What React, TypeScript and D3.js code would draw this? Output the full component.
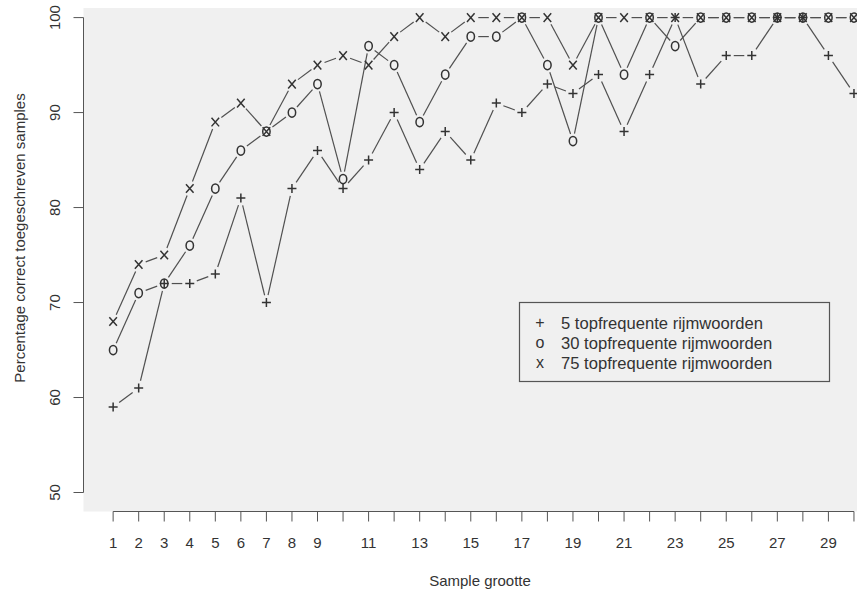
import * as d3 from "d3";
import { useEffect, useRef } from "react";

// sample sizes 1..30
const sampleSizes = d3.range(1, 31);

// percentage correct per sample size
const top5 = [59, 61, 72, 72, 73, 81, 70, 82, 86, 82, 85, 90, 84, 88, 85, 91, 90, 93, 92, 94, 88, 94, 100, 93, 96, 96, 100, 100, 96, 92];
const top30 = [65, 71, 72, 76, 82, 86, 88, 90, 93, 83, 97, 95, 89, 94, 98, 98, 100, 95, 87, 100, 94, 100, 97, 100, 100, 100, 100, 100, 100, 100];
const top75 = [68, 74, 75, 82, 89, 91, 88, 93, 95, 96, 95, 98, 100, 98, 100, 100, 100, 100, 95, 100, 100, 100, 100, 100, 100, 100, 100, 100, 100, 100];

const seriesNames = ["5 topfrequente rijmwoorden", "30 topfrequente rijmwoorden", "75 topfrequente rijmwoorden"];
const seriesSymbols = ["+", "o", "x"];

const xTickLabels = [1, 2, 3, 4, 5, 6, 7, 8, 9, 11, 13, 15, 17, 19, 21, 23, 25, 27, 29];
const yTicks = [50, 60, 70, 80, 90, 100];

const WIDTH = 857;
const HEIGHT = 593;
const FONT = "'Liberation Sans', Arial, Helvetica, sans-serif";
const INK = "#333";

const App = () => {
  const svgRef = useRef(null);

  useEffect(() => {
    const root = d3.select(svgRef.current);
    root.selectAll("*").remove();

    // R-style plot region: data range expanded by 4%
    const x = d3.scaleLinear().domain([1 - 1.16, 30 + 1.16]).range([83.5, 883.6]);
    const y = d3.scaleLinear().domain([48, 102]).range([511.5, -1.4]);
    const left = x(-0.16);

    // plot background
    root
      .append("rect")
      .attr("x", left)
      .attr("y", 8)
      .attr("width", WIDTH - left)
      .attr("height", y(48) - 8)
      .attr("fill", "#f0f0f0");

    // y axis
    const ya = root.append("g").attr("stroke", "#555").attr("fill", "none");
    ya.append("line")
      .attr("x1", left).attr("x2", left)
      .attr("y1", y(50)).attr("y2", y(100));
    ya.selectAll(".yt")
      .data(yTicks)
      .enter()
      .append("line")
      .attr("x1", left).attr("x2", left - 10)
      .attr("y1", (d) => y(d)).attr("y2", (d) => y(d));
    root
      .selectAll(".ylab")
      .data(yTicks)
      .enter()
      .append("text")
      .attr("transform", (d) => `translate(60, ${y(d)}) rotate(-90)`)
      .attr("text-anchor", "middle")
      .attr("font-family", FONT)
      .attr("font-size", 15)
      .attr("fill", INK)
      .text((d) => d);

    // x axis
    const xa = root.append("g").attr("stroke", "#555").attr("fill", "none");
    xa.append("line")
      .attr("x1", x(1)).attr("x2", x(30))
      .attr("y1", y(48)).attr("y2", y(48));
    xa.selectAll(".xt")
      .data(sampleSizes)
      .enter()
      .append("line")
      .attr("x1", (d) => x(d)).attr("x2", (d) => x(d))
      .attr("y1", y(48)).attr("y2", y(48) + 10);
    root
      .selectAll(".xlab")
      .data(xTickLabels)
      .enter()
      .append("text")
      .attr("x", (d) => x(d))
      .attr("y", 548)
      .attr("text-anchor", "middle")
      .attr("font-family", FONT)
      .attr("font-size", 15)
      .attr("fill", INK)
      .text((d) => d);

    // axis titles
    root
      .append("text")
      .attr("x", 480)
      .attr("y", 586)
      .attr("text-anchor", "middle")
      .attr("font-family", FONT)
      .attr("font-size", 15)
      .attr("fill", INK)
      .text("Sample grootte");
    root
      .append("text")
      .attr("transform", `translate(25, 238) rotate(-90)`)
      .attr("text-anchor", "middle")
      .attr("font-family", FONT)
      .attr("font-size", 15)
      .attr("fill", INK)
      .text("Percentage correct toegeschreven samples");

    // marker drawing
    const drawMarker = (g, sym, cx, cy) => {
      if (sym === "+") {
        g.append("path")
          .attr("d", `M${cx - 4.5},${cy}H${cx + 4.5}M${cx},${cy - 4.5}V${cy + 4.5}`)
          .attr("stroke", INK).attr("stroke-width", 1.5).attr("fill", "none");
      } else if (sym === "o") {
        g.append("ellipse")
          .attr("cx", cx).attr("cy", cy).attr("rx", 3.7).attr("ry", 4.6)
          .attr("stroke", INK).attr("stroke-width", 1.5).attr("fill", "none");
      } else {
        g.append("path")
          .attr("d", `M${cx - 3.8},${cy - 4.3}L${cx + 3.8},${cy + 4.3}M${cx + 3.8},${cy - 4.3}L${cx - 3.8},${cy + 4.3}`)
          .attr("stroke", INK).attr("stroke-width", 1.5).attr("fill", "none");
      }
    };

    // type = "b": lines with gaps around the points
    const gap = 7.5;
    [top5, top30, top75].forEach((vals, si) => {
      const g = root.append("g");
      const pts = vals.map((v, i) => [x(sampleSizes[i]), y(v)]);
      for (let i = 0; i < pts.length - 1; i++) {
        const [x0, y0] = pts[i];
        const [x1, y1] = pts[i + 1];
        const len = Math.hypot(x1 - x0, y1 - y0);
        if (len <= 2 * gap) continue;
        const ux = (x1 - x0) / len;
        const uy = (y1 - y0) / len;
        g.append("line")
          .attr("x1", x0 + ux * gap).attr("y1", y0 + uy * gap)
          .attr("x2", x1 - ux * gap).attr("y2", y1 - uy * gap)
          .attr("stroke", "#505050").attr("stroke-width", 1.2);
      }
      pts.forEach(([px, py]) => drawMarker(g, seriesSymbols[si], px, py));
    });

    // legend
    const lg = root.append("g");
    lg.append("rect")
      .attr("x", 519.5).attr("y", 302.5).attr("width", 310).attr("height", 79)
      .attr("fill", "none").attr("stroke", "#555").attr("stroke-width", 1.2);
    seriesNames.forEach((name, i) => {
      const ly = 323 + i * 20;
      lg.append("text")
        .attr("x", 540).attr("y", ly + 5)
        .attr("text-anchor", "middle")
        .attr("font-family", FONT).attr("font-size", 16).attr("fill", INK)
        .text(seriesSymbols[i]);
      lg.append("text")
        .attr("x", 561).attr("y", ly + 5.5)
        .attr("font-family", FONT).attr("font-size", 16.6).attr("fill", INK)
        .text(name);
    });
  }, []);

  return (
    <svg
      ref={svgRef}
      width={WIDTH}
      height={HEIGHT}
      style={{ position: "absolute", left: 0, top: 0, background: "#fff" }}
    ></svg>
  );
};

export default App;
